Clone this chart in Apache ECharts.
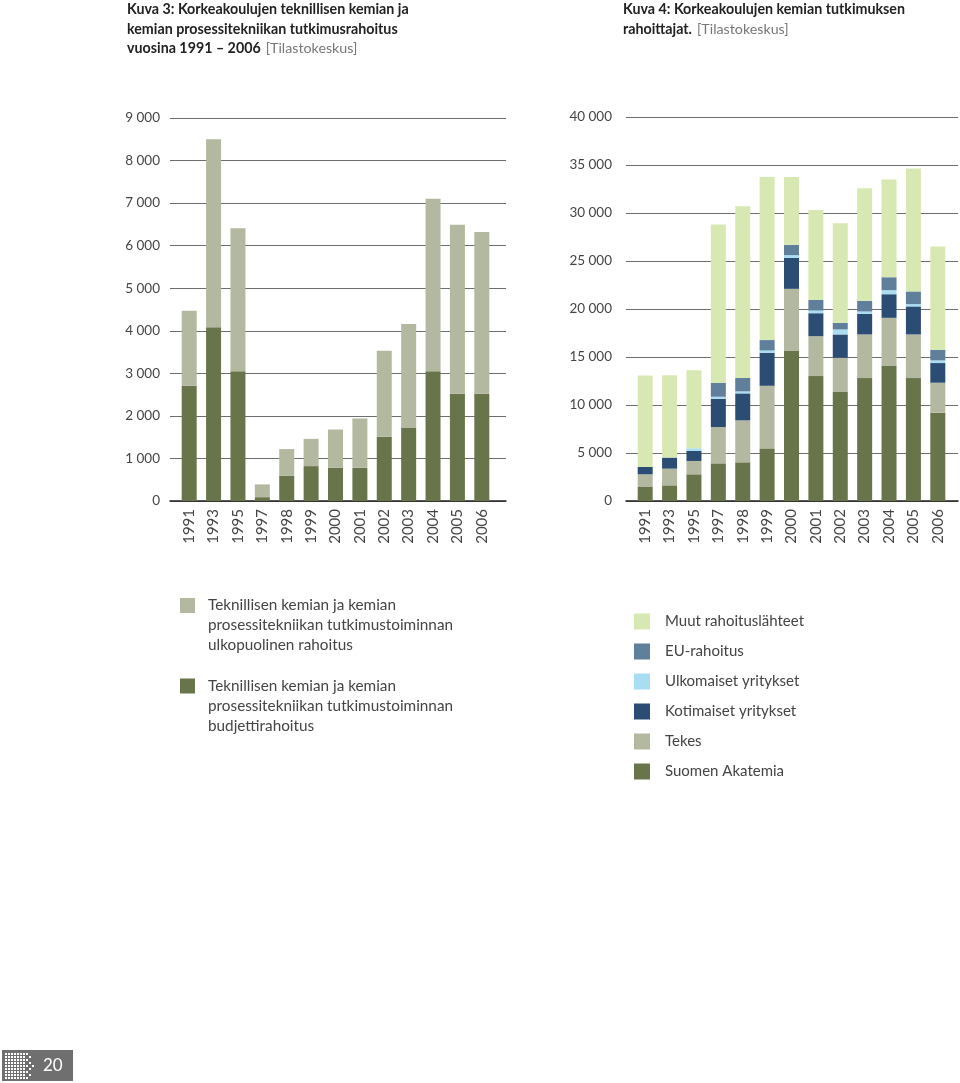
<!DOCTYPE html>
<html><head><meta charset="utf-8">
<script src="https://cdn.jsdelivr.net/npm/echarts@6/dist/echarts.min.js"></script>
<style>html,body{margin:0;padding:0;background:#fff}#c{width:960px;height:1083px}</style>
</head><body><div id="c"></div>
<script>
// ---- data ----
const years = ['1991','1993','1995','1997','1998','1999','2000','2001','2002','2003','2004','2005','2006'];
// Kuva 3
const budjetti = [2710,4080,3050,90,590,820,780,780,1510,1730,3050,2520,2520];
const ulkopuolinen = [1760,4420,3360,300,630,640,900,1160,2020,2430,4050,3970,3800];
const leftTicks = [0,1000,2000,3000,4000,5000,6000,7000,8000,9000];
// Kuva 4
const akatemia   = [1460,1630,2780,3920,4030,5480,15680,13010,11350,12800,14120,12800,9200];
const tekes      = [1320,1740,1390,3780,4370,6520,6420,4160,3570,4550,4960,4550,3120];
const kotimaiset = [760,1150,1040,2950,2810,3440,3230,2390,2430,2150,2460,2920,2050];
const ulkomaiset = [0,0,280,210,210,240,280,280,520,240,420,240,280];
const eu         = [0,0,0,1460,1390,1080,1070,1110,690,1110,1350,1320,1080];
const muut       = [9540,8570,8120,16480,17900,17000,7080,9370,10380,11730,10170,12800,10790];
const rightTicks = [0,5000,10000,15000,20000,25000,30000,35000,40000];

const nameExt = 'Teknillisen kemian ja kemian\nprosessitekniikan tutkimustoiminnan\nulkopuolinen rahoitus';
const nameBud = 'Teknillisen kemian ja kemian\nprosessitekniikan tutkimustoiminnan\nbudjettirahoitus';

const C = {olive:'#68754a', grey:'#b3b9a0', dblue:'#2b4d73', lblue:'#a9ddf2', eu:'#5f7f9b', muut:'#d8e8b2'};
const FONT = 'Lato, "Open Sans", sans-serif';
const fmt = v => String(v).replace(/\B(?=(\d{3})+(?!\d))/g, ' ');

const chart = echarts.init(document.getElementById('c'), null, {renderer:'canvas'});

// page-number decoration
const deco = [{type:'rect', shape:{x:2,y:1050,width:71,height:31}, style:{fill:'#6f6f6f'}}];
for (let cx = 0; cx < 10; cx++) {
  for (let cy = 0; cy < 9; cy++) {
    if (cx >= 7 && ((cx + cy) % 2 === 0 || cx === 9 && cy % 3 !== 1)) continue;
    deco.push({type:'rect', shape:{x:5 + cx*3, y:1053 + cy*3, width:2, height:2}, style:{fill:'#ffffff'}});
  }
}
deco.push({type:'text', x:43, y:1066, style:{text:'20', fill:'#ffffff', font:'17px ' + FONT, verticalAlign:'middle'}});

const axisGrid = (gi, max, interval) => ({
  gridIndex: gi, type:'value', min:0, max:max, interval:interval,
  axisLine:{show:false}, axisTick:{show:false},
  splitLine:{show:true, lineStyle:{color:'#6e6e6e', width:1}},
  axisLabel:{color:'#444', fontFamily:FONT, fontSize:13.5, formatter: v => fmt(v), margin: gi===0 ? 10 : 14}
});

const titleRich = {
  b:{fontFamily:FONT, fontWeight:'bold', fontSize:14.25, color:'#222', lineHeight:19.5},
  l:{fontFamily:FONT, fontWeight:'normal', fontSize:14.25, color:'#777', lineHeight:19.5}
};

chart.setOption({
  animation:false,
  backgroundColor:'#fff',
  title:[
    {left:127, top:0, padding:0, text:'{b|Kuva 3: Korkeakoulujen teknillisen kemian ja}\n{b|kemian prosessitekniikan tutkimusrahoitus}\n{b|vuosina 1991 – 2006} {l|[Tilastokeskus]}',
     textStyle:{fontWeight:'normal', rich:titleRich}},
    {left:623, top:0, padding:0, text:'{b|Kuva 4: Korkeakoulujen kemian tutkimuksen}\n{b|rahoittajat.} {l|[Tilastokeskus]}',
     textStyle:{fontWeight:'normal', rich:titleRich}}
  ],
  grid:[
    {left:170, width:336, top:118, height:383},
    {left:177, width:317, top:118, height:383},
    {left:626, width:332, top:117, height:384},
    {left:633, width:317, top:117, height:384}
  ],
  xAxis:[
    {gridIndex:0, type:'value', min:0, max:1, axisLine:{show:true, onZero:false, lineStyle:{color:'#222', width:1.5}}, axisTick:{show:false}, axisLabel:{show:false}, splitLine:{show:false}},
    {gridIndex:1, type:'category', data:years, axisLine:{show:false}, axisTick:{show:false},
     axisLabel:{rotate:90, color:'#444', fontFamily:FONT, fontSize:15, margin:8, interval:0}},
    {gridIndex:2, type:'value', min:0, max:1, axisLine:{show:true, onZero:false, lineStyle:{color:'#222', width:1.5}}, axisTick:{show:false}, axisLabel:{show:false}, splitLine:{show:false}},
    {gridIndex:3, type:'category', data:years, axisLine:{show:false}, axisTick:{show:false},
     axisLabel:{rotate:90, color:'#444', fontFamily:FONT, fontSize:15, margin:8, interval:0}}
  ],
  yAxis:[
    axisGrid(0, leftTicks[leftTicks.length-1], leftTicks[1]-leftTicks[0]),
    {gridIndex:1, type:'value', min:0, max:leftTicks[leftTicks.length-1], show:false},
    axisGrid(2, rightTicks[rightTicks.length-1], rightTicks[1]-rightTicks[0]),
    {gridIndex:3, type:'value', min:0, max:rightTicks[rightTicks.length-1], show:false}
  ],
  legend:[
    {data:[nameExt], left:180, top:555.5, padding:0, orient:'vertical', icon:'rect', itemWidth:15, itemHeight:15, selectedMode:false,
     formatter: n => '\n\n' + n, textStyle:{color:'#444', fontFamily:FONT, fontSize:15.3, lineHeight:20, padding:[0,0,0,8]}},
    {data:[nameBud], left:180, top:636, padding:0, orient:'vertical', icon:'rect', itemWidth:15, itemHeight:15, selectedMode:false,
     formatter: n => '\n\n' + n, textStyle:{color:'#444', fontFamily:FONT, fontSize:15.3, lineHeight:20, padding:[0,0,0,8]}},
    {data:['Muut rahoituslähteet','EU-rahoitus','Ulkomaiset yritykset','Kotimaiset yritykset','Tekes','Suomen Akatemia'],
     left:634, top:611.5, padding:0, orient:'vertical', icon:'rect', itemWidth:16, itemHeight:16, itemGap:10, selectedMode:false,
     textStyle:{color:'#444', fontFamily:FONT, fontSize:15, lineHeight:20, padding:[0,0,0,10]}}
  ],
  series:[
    {name:nameBud, type:'bar', stack:'a', xAxisIndex:1, yAxisIndex:1, barWidth:15, data:budjetti, itemStyle:{color:C.olive}},
    {name:nameExt, type:'bar', stack:'a', xAxisIndex:1, yAxisIndex:1, barWidth:15, data:ulkopuolinen, itemStyle:{color:C.grey}},
    {name:'Suomen Akatemia', type:'bar', stack:'b', xAxisIndex:3, yAxisIndex:3, barWidth:15, data:akatemia, itemStyle:{color:C.olive}},
    {name:'Tekes', type:'bar', stack:'b', xAxisIndex:3, yAxisIndex:3, barWidth:15, data:tekes, itemStyle:{color:C.grey}},
    {name:'Kotimaiset yritykset', type:'bar', stack:'b', xAxisIndex:3, yAxisIndex:3, barWidth:15, data:kotimaiset, itemStyle:{color:C.dblue}},
    {name:'Ulkomaiset yritykset', type:'bar', stack:'b', xAxisIndex:3, yAxisIndex:3, barWidth:15, data:ulkomaiset, itemStyle:{color:C.lblue}},
    {name:'EU-rahoitus', type:'bar', stack:'b', xAxisIndex:3, yAxisIndex:3, barWidth:15, data:eu, itemStyle:{color:C.eu}},
    {name:'Muut rahoituslähteet', type:'bar', stack:'b', xAxisIndex:3, yAxisIndex:3, barWidth:15, data:muut, itemStyle:{color:C.muut}}
  ],
  graphic: deco
});
</script></body></html>
